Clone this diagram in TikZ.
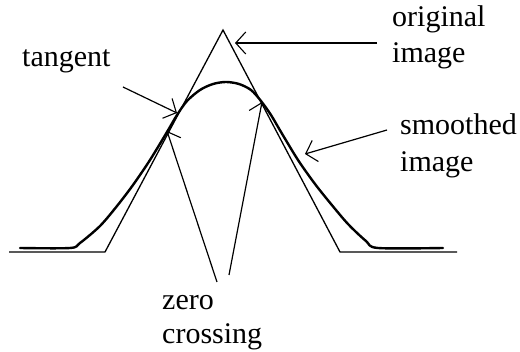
\documentclass[tikz,border=0pt]{standalone}
\usepackage{fontspec}
\setmainfont{Liberation Serif}
\usetikzlibrary{arrows.meta}
\begin{document}
\begin{tikzpicture}[x=1pt,y=-1pt,
  lbl/.style={inner sep=0pt,anchor=base west,font=\fontsize{30}{36}\selectfont},
  orig/.style={line width=1.3pt,line join=miter},
  smooth curve/.style={line width=2.4pt,line cap=round,line join=round},
  ptr/.style={line width=1.2pt,-{Straight Barb[length=10pt,width=22pt,line width=1.1pt]}}]
\useasboundingbox (0,0) rectangle (520,352);
% original image (triangle)
\draw[orig] (9,252) -- (105,252) -- (223,30) -- (340,252) -- (457,252);
% smoothed image
\draw[smooth curve] plot[smooth,tension=0.5] coordinates {
 (20,248) (70,248) (80,243) (100,226) (117,206) (133,185) (150,160) (167,132)
 (177,115) (187,101) (200,90) (213,84) (226,82) (239,84) (251,90) (261,101)
 (271,115) (281,132) (298,160) (315,184) (331,204) (348,224) (366,241) (378,248) (443,248)};
% labels
\node[lbl] (tan) at (22,67) {tangent};
\node[lbl] (ori1) at (392,27) {original};
\node[lbl] (ori2) at (392,63) {image};
\node[lbl] (smo1) at (400,135) {smoothed};
\node[lbl] (smo2) at (400,172) {image};
\node[lbl] (zer1) at (162,310) {zero};
\node[lbl] (zer2) at (162,344) {crossing};
% arrow anchor points
\coordinate (oS) at (377,43);
\coordinate (oT) at (235,43);
\coordinate (tS) at (123,87);
\coordinate (tT) at (177,113);
\coordinate (sS) at (387,130);
\coordinate (sT) at (305,154);
\coordinate (zL) at (217,282);
\coordinate (zLT) at (167,131);
\coordinate (zR) at (229,275);
\coordinate (zRT) at (262,102);
% pointers
\draw[ptr] (oS) -- (oT);
\draw[ptr] (tS) -- (tT);
\draw[ptr] (sS) -- (sT);
\draw[ptr] (zL) -- (zLT);
\draw[ptr] (zR) -- (zRT);
\end{tikzpicture}
\end{document}
